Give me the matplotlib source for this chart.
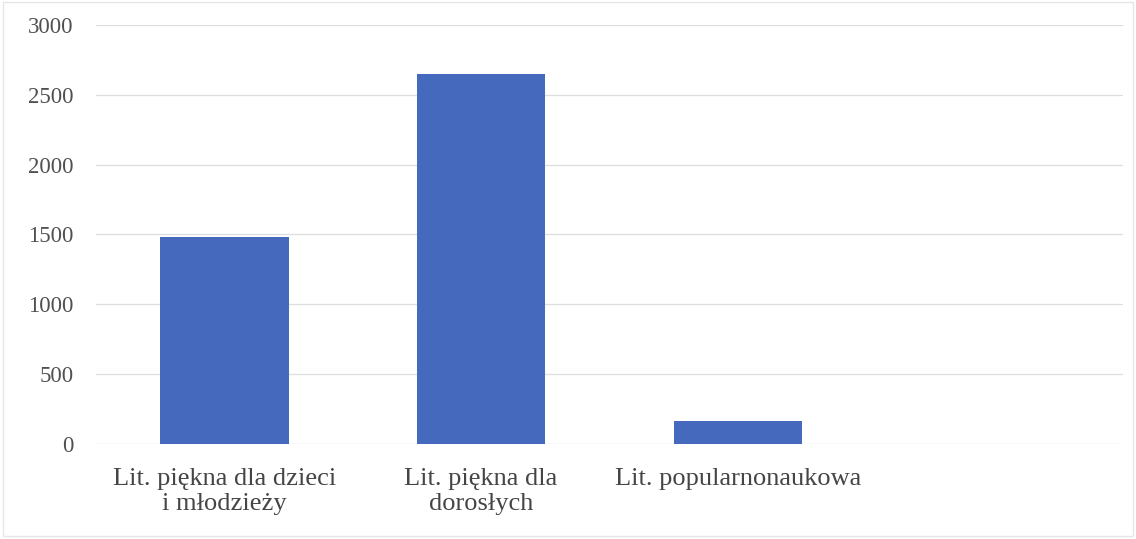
import matplotlib.pyplot as plt
import numpy as np

categories = ["Lit. piękna dla dzieci\ni młodzieży", "Lit. piękna dla\ndorosłych", "Lit. popularnonaukowa"]
values = [1480, 2650, 165]
yticks = [0, 500, 1000, 1500, 2000, 2500, 3000]

plt.rcParams['font.family'] = ['Liberation Serif', 'DejaVu Serif']

fig = plt.figure(figsize=(11.36, 5.39), dpi=100)
ax = fig.add_axes([0.0845, 0.176, 0.904, 0.778])

x = np.arange(len(categories))
ax.bar(x, values, width=0.5, color='#4469bd', zorder=3)

ax.set_xlim(-0.5, 3.5)
ax.set_ylim(0, 3000)
ax.set_yticks(yticks)
ax.set_xticks(x)
ax.set_xticklabels(categories, fontsize=19, color='#454545', linespacing=1.2)
ax.tick_params(axis='y', labelsize=16.5, colors='#505050', length=0, pad=16)
ax.tick_params(axis='x', length=0, pad=17)

ax.grid(axis='y', color='#dedede', linewidth=0.9, zorder=0)
for s in ax.spines.values():
    s.set_visible(False)

# faint frame of the scanned figure
fig.patches.append(plt.Rectangle((0.003, 0.006), 0.994, 0.99, transform=fig.transFigure,
                                 fill=False, edgecolor='#e6e6e6', linewidth=1))

fig.savefig('out.png', dpi=100, facecolor='white')
